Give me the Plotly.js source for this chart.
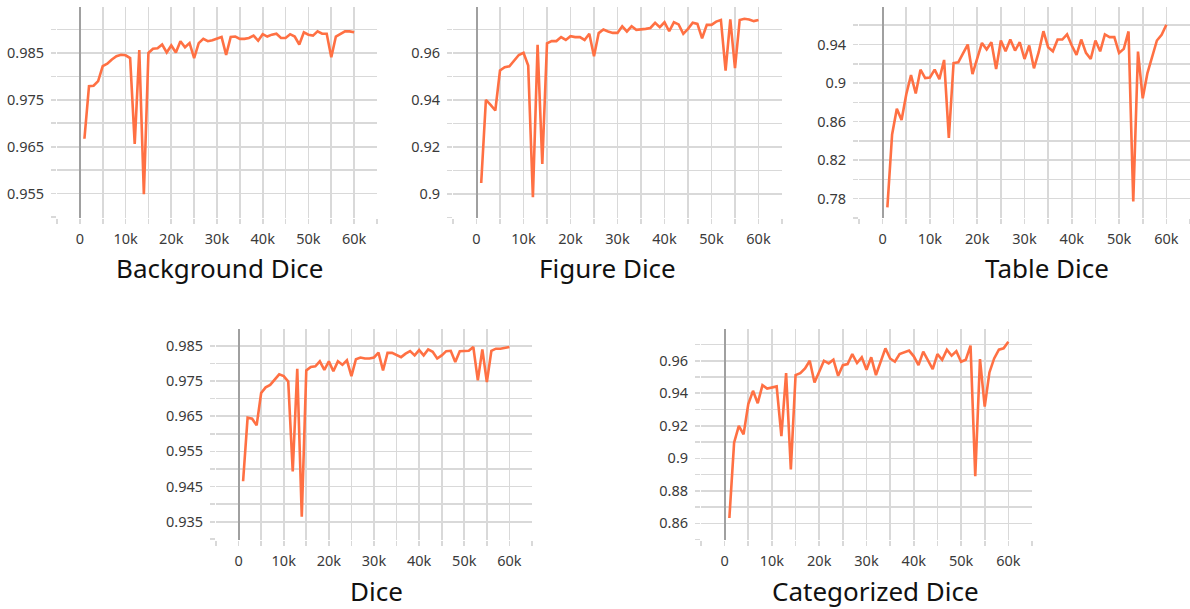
<!DOCTYPE html>
<html>
<head>
<meta charset="utf-8">
<script src="https://cdn.plot.ly/plotly-3.0.1.min.js"></script>
<style>html,body{margin:0;padding:0;background:#fff;}#chart{width:1190px;height:609px;}</style>
</head>
<body>
<div id="chart"></div>
<script>
const steps = [1000,2000,3000,4000,5000,6000,7000,8000,9000,10000,
  11000,12000,13000,14000,15000,16000,17000,18000,19000,20000,
  21000,22000,23000,24000,25000,26000,27000,28000,29000,30000,
  31000,32000,33000,34000,35000,36000,37000,38000,39000,40000,
  41000,42000,43000,44000,45000,46000,47000,48000,49000,50000,
  51000,52000,53000,54000,55000,56000,57000,58000,59000,60000];

const backgroundDice = [0.9667,0.9779,0.9780,0.9790,0.9822,0.9827,0.9836,0.9843,0.9846,0.9845,
  0.9839,0.9656,0.9856,0.9549,0.9850,0.9859,0.9860,0.9868,0.9851,0.9866,
  0.9851,0.9875,0.9862,0.9871,0.9839,0.9871,0.9880,0.9875,0.9877,0.9880,
  0.9884,0.9846,0.9884,0.9885,0.9880,0.9880,0.9882,0.9887,0.9876,0.9890,
  0.9885,0.9889,0.9891,0.9882,0.9882,0.9890,0.9885,0.9868,0.9894,0.9889,
  0.9887,0.9896,0.9891,0.9891,0.9841,0.9885,0.9890,0.9896,0.9896,0.9894];

const figureDice = [0.9047,0.9400,0.9379,0.9355,0.9525,0.9539,0.9543,0.9567,0.9591,0.9600,
  0.9546,0.8986,0.9634,0.9128,0.9641,0.9650,0.9650,0.9667,0.9655,0.9671,
  0.9667,0.9667,0.9655,0.9681,0.9586,0.9684,0.9699,0.9691,0.9685,0.9685,
  0.9713,0.9691,0.9713,0.9698,0.9699,0.9702,0.9706,0.9728,0.9709,0.9730,
  0.9692,0.9730,0.9721,0.9681,0.9702,0.9728,0.9723,0.9662,0.9719,0.9719,
  0.9733,0.9740,0.9525,0.9742,0.9535,0.9740,0.9745,0.9742,0.9735,0.9740];

const tableDice = [0.7709,0.8466,0.8734,0.8616,0.8884,0.9083,0.8891,0.9139,0.9052,0.9058,
  0.9139,0.9041,0.9240,0.8431,0.9208,0.9215,0.9309,0.9400,0.9093,0.9268,
  0.9417,0.9348,0.9424,0.9146,0.9442,0.9330,0.9452,0.9337,0.9424,0.9250,
  0.9390,0.9153,0.9320,0.9539,0.9372,0.9330,0.9452,0.9452,0.9505,0.9390,
  0.9292,0.9452,0.9313,0.9250,0.9442,0.9330,0.9505,0.9477,0.9477,0.9313,
  0.9355,0.9536,0.7769,0.9327,0.8842,0.9104,0.9278,0.9442,0.9501,0.9606];

const dice = [0.9465,0.9646,0.9643,0.9624,0.9716,0.9732,0.9739,0.9754,0.9769,0.9764,
  0.9749,0.9493,0.9785,0.9364,0.9780,0.9790,0.9792,0.9806,0.9782,0.9806,
  0.9778,0.9806,0.9796,0.9809,0.9764,0.9812,0.9817,0.9814,0.9814,0.9817,
  0.9831,0.9780,0.9830,0.9830,0.9825,0.9818,0.9828,0.9835,0.9823,0.9838,
  0.9823,0.9840,0.9833,0.9814,0.9823,0.9835,0.9836,0.9804,0.9835,0.9836,
  0.9836,0.9847,0.9752,0.9840,0.9747,0.9836,0.9842,0.9842,0.9844,0.9847];

const categorizedDice = [0.8633,0.9096,0.9199,0.9147,0.9333,0.9415,0.9339,0.9450,0.9429,0.9435,
  0.9442,0.9137,0.9524,0.8931,0.9512,0.9524,0.9553,0.9600,0.9466,0.9532,
  0.9600,0.9584,0.9606,0.9507,0.9573,0.9579,0.9641,0.9586,0.9621,0.9544,
  0.9621,0.9512,0.9594,0.9676,0.9614,0.9594,0.9641,0.9651,0.9662,0.9627,
  0.9573,0.9656,0.9600,0.9549,0.9641,0.9606,0.9668,0.9631,0.9658,0.9594,
  0.9606,0.9693,0.8890,0.9610,0.9318,0.9528,0.9614,0.9668,0.9676,0.9717];

const panelTitles = ["Background Dice", "Figure Dice", "Table Dice", "Dice", "Categorized Dice"];

const xGridVals = [-5000,0,5000,10000,15000,20000,25000,30000,35000,40000,45000,50000,55000,60000,65000];
const xGridText = ["","0","","10k","","20k","","30k","","40k","","50k","","60k",""];

const yTicks = [
  {vals:[0.950,0.955,0.960,0.965,0.970,0.975,0.980,0.985,0.990], text:["","0.955","","0.965","","0.975","","0.985",""], range:[0.9498,0.9948]},
  {vals:[0.89,0.90,0.91,0.92,0.93,0.94,0.95,0.96,0.97], text:["","0.9","","0.92","","0.94","","0.96",""], range:[0.8898,0.9795]},
  {vals:[0.76,0.78,0.80,0.82,0.84,0.86,0.88,0.90,0.92,0.94,0.96], text:["","0.78","","0.82","","0.86","","0.9","","0.94",""], range:[0.7598,0.979]},
  {vals:[0.930,0.935,0.940,0.945,0.950,0.955,0.960,0.965,0.970,0.975,0.980,0.985], text:["","0.935","","0.945","","0.955","","0.965","","0.975","","0.985"], range:[0.9298,0.9898]},
  {vals:[0.85,0.86,0.87,0.88,0.89,0.90,0.91,0.92,0.93,0.94,0.95,0.96,0.97], text:["","0.86","","0.88","","0.9","","0.92","","0.94","","0.96",""], range:[0.8498,0.9795]}
];

const W = 1190, H = 609;
const boxes = [
  {x0:57, x1:377, top:7, bottom:218},
  {x0:453, x1:782, top:7, bottom:218},
  {x0:859, x1:1190, top:7, bottom:218},
  {x0:216, x1:532, top:329, bottom:540},
  {x0:701, x1:1032, top:329, bottom:540}
];
const titlePos = [{x:220,y:268},{x:607,y:268},{x:1047,y:268},{x:376,y:591},{x:875,y:591}];
const series = [backgroundDice, figureDice, tableDice, dice, categorizedDice];

const traces = [];
const layout = {
  width: W, height: H,
  margin: {l:0, r:0, t:0, b:0},
  paper_bgcolor: "#fff", plot_bgcolor: "#fff",
  showlegend: false,
  font: {family: "Noto Sans, Roboto, sans-serif", color: "#333"},
  annotations: []
};

series.forEach((ys, i) => {
  const n = i + 1;
  const xa = n === 1 ? "x" : "x" + n;
  const ya = n === 1 ? "y" : "y" + n;
  traces.push({
    x: steps, y: ys, xaxis: xa, yaxis: ya,
    type: "scatter", mode: "lines",
    line: {color: "#ff7043", width: 2.6},
    hoverinfo: "x+y"
  });
  const b = boxes[i];
  const common = {
    showgrid: true, gridcolor: "#d9d9d9", gridwidth: 1.6,
    ticks: "outside", ticklen: 5, tickcolor: "#d9d9d9", tickwidth: 1.6,
    showline: false, tickmode: "array",
    tickfont: {size: 14.5, color: "#3a3a3a", family: "Noto Sans, Roboto, sans-serif"},
    fixedrange: true
  };
  layout["xaxis" + (n === 1 ? "" : n)] = Object.assign({}, common, {
    domain: [b.x0 / W, b.x1 / W],
    anchor: ya,
    range: [-5000, 65000],
    tickvals: xGridVals, ticktext: xGridText,
    zeroline: true, zerolinecolor: "#a0a0a0", zerolinewidth: 2,
    ticklabelstandoff: 3
  });
  layout["yaxis" + (n === 1 ? "" : n)] = Object.assign({}, common, {
    domain: [1 - b.bottom / H, 1 - b.top / H],
    anchor: xa,
    range: yTicks[i].range,
    tickvals: yTicks[i].vals, ticktext: yTicks[i].text,
    zeroline: false,
    ticklabelstandoff: 4
  });
  layout.annotations.push({
    text: panelTitles[i], xref: "paper", yref: "paper",
    x: titlePos[i].x / W, y: 1 - titlePos[i].y / H,
    xanchor: "center", yanchor: "middle", showarrow: false,
    font: {size: 26, color: "#111", family: "Noto Sans, Roboto, sans-serif"}
  });
});

Plotly.newPlot("chart", traces, layout, {staticPlot: true, displayModeBar: false});
</script>
</body>
</html>
